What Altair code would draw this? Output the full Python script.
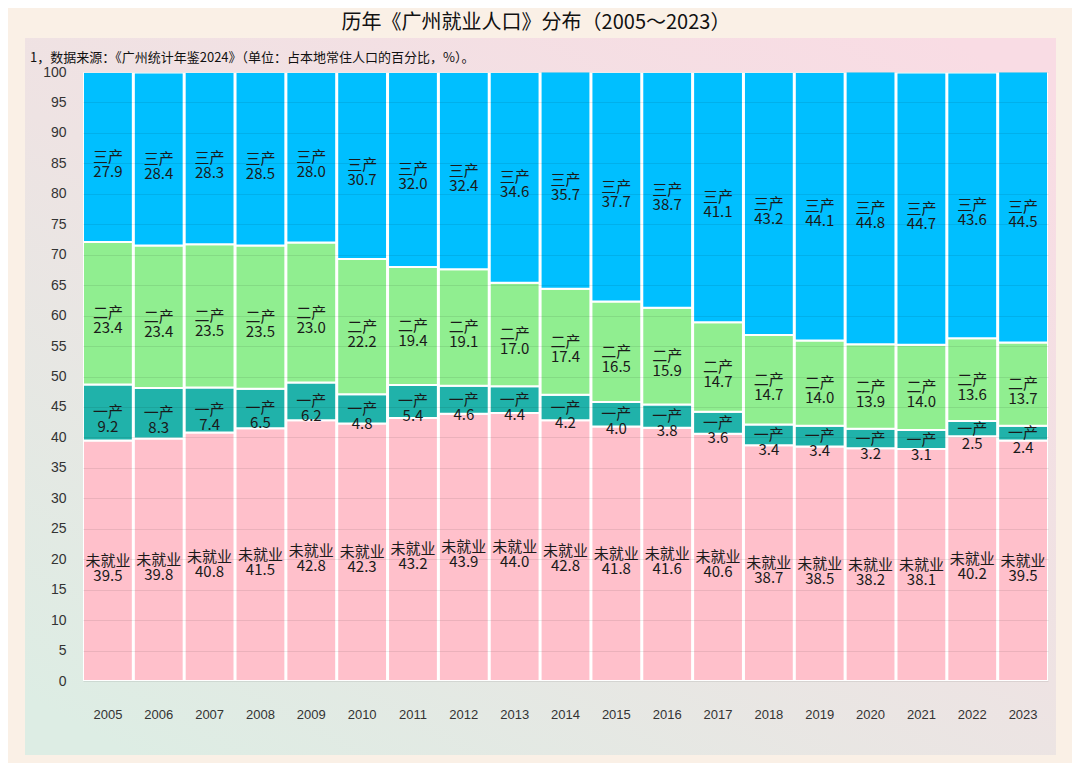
import altair as alt
import pandas as pd

years = [str(y) for y in range(2005, 2024)]
unemployed = [39.5, 39.8, 40.8, 41.5, 42.8, 42.3, 43.2, 43.9, 44.0, 42.8, 41.8, 41.6, 40.6, 38.7, 38.5, 38.2, 38.1, 40.2, 39.5]
primary = [9.2, 8.3, 7.4, 6.5, 6.2, 4.8, 5.4, 4.6, 4.4, 4.2, 4.0, 3.8, 3.6, 3.4, 3.4, 3.2, 3.1, 2.5, 2.4]
secondary = [23.4, 23.4, 23.5, 23.5, 23.0, 22.2, 19.4, 19.1, 17.0, 17.4, 16.5, 15.9, 14.7, 14.7, 14.0, 13.9, 14.0, 13.6, 13.7]
tertiary = [27.9, 28.4, 28.3, 28.5, 28.0, 30.7, 32.0, 32.4, 34.6, 35.7, 37.7, 38.7, 41.1, 43.2, 44.1, 44.8, 44.7, 43.6, 44.5]
y_ticks = list(range(0, 101, 5))
categories = ["未就业", "一产", "二产", "三产"]
colors = ["#FFC0CB", "#20B2AA", "#90EE90", "#00BFFF"]

rows = []
for ci, (cat, vals) in enumerate(zip(categories, [unemployed, primary, secondary, tertiary])):
    for y, v in zip(years, vals):
        rows.append({"year": y, "cat": cat, "value": v, "order": ci,
                     "label": f"{cat}\n{v:.1f}"})
df = pd.DataFrame(rows)

W, H = 965, 609
FONT = "Noto Sans CJK SC"

base = alt.Chart(df).transform_stack(
    stack="value", groupby=["year"], as_=["y0", "y1"],
    sort=[alt.SortField("order", order="ascending")]
).transform_calculate(mid="(datum.y0 + datum.y1) / 2")

xscale = alt.Scale(paddingInner=0.02, paddingOuter=0)
xaxis = alt.Axis(labelAngle=0, ticks=False, domain=False, labelPadding=27,
                 labelFontSize=13, labelColor="#333333", labelFont="Liberation Sans",
                 zindex=1)
yscale = alt.Scale(domain=[0, 100], nice=False)
yaxis = alt.Axis(values=y_ticks, ticks=False, domain=False, labelOverlap=False,
                 labelPadding=17, labelFontSize=14, labelColor="#333333",
                 labelFont="Liberation Sans",
                 grid=True, gridColor="#000000", gridOpacity=0.08,
                 gridWidth=1, zindex=1)

bars = base.mark_bar(stroke="white", strokeWidth=2, clip=True).encode(
    x=alt.X("year:N", sort=years, title=None, scale=xscale, axis=xaxis),
    y=alt.Y("y0:Q", title=None, scale=yscale, axis=yaxis),
    y2="y1:Q",
    color=alt.Color("cat:N", sort=categories,
                    scale=alt.Scale(domain=categories, range=colors), legend=None),
)

labels = base.mark_text(font=FONT, fontSize=15, color="#1a1a1a", lineBreak="\n",
                        baseline="middle", align="center", lineHeight=15).encode(
    x=alt.X("year:N", sort=years, title=None, scale=xscale, axis=xaxis),
    y=alt.Y("mid:Q", title=None, scale=yscale, axis=yaxis),
    text="label:N",
)

one = pd.DataFrame({"k": [0]})
panel = alt.Chart(one).mark_rect(
    color=alt.Gradient(gradient="linear",
                       stops=[alt.GradientStop(color="#F9DCE4", offset=0),
                              alt.GradientStop(color="#EEE3E3", offset=0.5),
                              alt.GradientStop(color="#DDEDE4", offset=1)],
                       x1=0.9, y1=0, x2=0.1, y2=1)
).encode(x=alt.value(-58), x2=alt.value(W + 8), y=alt.value(-34), y2=alt.value(H + 74))

title = alt.Chart(one).mark_text(font=FONT, fontSize=20, color="#111111",
                                 align="center", baseline="middle").encode(
    x=alt.value(536 - 83), y=alt.value(23 - 72),
    text=alt.value("历年《广州就业人口》分布（2005～2023）"))

subtitle = alt.Chart(one).mark_text(font=FONT, fontSize=13, color="#111111",
                                    align="left", baseline="middle").encode(
    x=alt.value(30 - 83), y=alt.value(58 - 72),
    text=alt.value("1，数据来源：《广州统计年鉴2024》（单位：占本地常住人口的百分比，%）。"))

chart = alt.layer(panel, bars, labels, title, subtitle).properties(
    width=W, height=H,
    background="#FAF0E6",
    padding={"left": 75, "top": 64, "right": 24, "bottom": 82},
    autosize=alt.AutoSizeParams(type="none"),
).configure_view(stroke=None)

chart.save("out.html", embed_options={"renderer": "svg", "actions": False})
